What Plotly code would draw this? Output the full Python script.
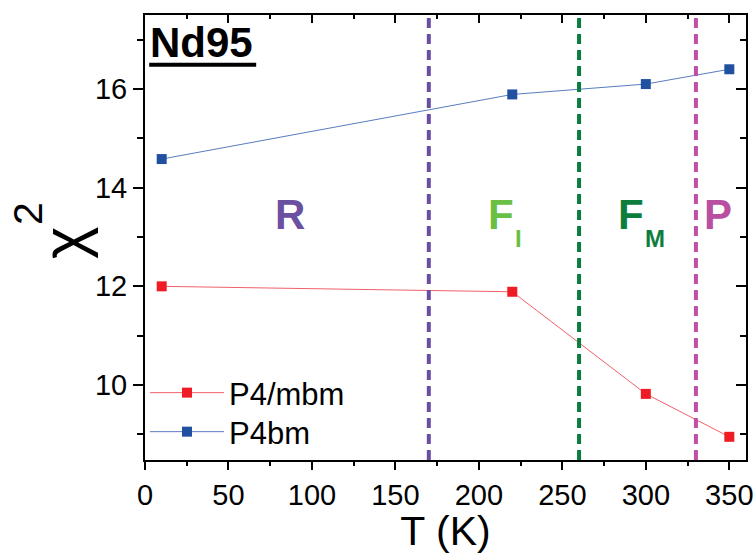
import plotly.graph_objects as go

T = [10, 220, 300, 350]
chi_p4mbm = [12.0, 11.89, 9.82, 8.95]
chi_p4bm = [14.58, 15.89, 16.1, 16.4]

boundaries = [170, 260, 330]
boundary_colors = ["#6a4ea3", "#0b7d3e", "#c14fa6"]

phase_labels = ["R", "F", "F", "P"]
phase_subs = ["", "I", "M", ""]
phase_x = [87, 213, 291, 343.5]
phase_y = [13.45, 13.45, 13.45, 13.45]
phase_colors = ["#6b4fa0", "#6abf45", "#0d7d3e", "#b94fa1"]

FONT = "Liberation Sans, Arial, sans-serif"

fig = go.Figure()

fig.add_trace(go.Scatter(
    x=T, y=chi_p4mbm, mode="lines+markers", name="P4/mbm", legend="legend",
    line=dict(color="#f0606a", width=1),
    marker=dict(symbol="square", size=10, color="#ee1c25"),
))
fig.add_trace(go.Scatter(
    x=T, y=chi_p4bm, mode="lines+markers", name="P4bm", legend="legend2",
    line=dict(color="#5a7cc0", width=1),
    marker=dict(symbol="square", size=10, color="#2150a0"),
))

for bx, bc in zip(boundaries, boundary_colors):
    fig.add_shape(type="line", x0=bx, x1=bx, y0=0, y1=1, xref="x", yref="paper",
                  line=dict(color=bc, width=4, dash="10px,6px"), layer="above")

for lab, sub, lx, ly, lc in zip(phase_labels, phase_subs, phase_x, phase_y, phase_colors):
    fig.add_annotation(x=lx, y=ly, xref="x", yref="y", text="<b>" + lab + "</b>",
                       showarrow=False, font=dict(family=FONT, size=42, color=lc))
    if sub:
        fig.add_annotation(x=lx, y=ly, xref="x", yref="y", text="<b>" + sub + "</b>",
                           xanchor="left", xshift=12, yshift=-24,
                           showarrow=False, font=dict(family=FONT, size=24, color=lc))

fig.add_annotation(x=0.005, y=0.995, xref="paper", yref="paper", xanchor="left", yanchor="top",
                   text="<b>Nd95</b>", showarrow=False,
                   font=dict(family=FONT, size=42, color="black"))
fig.add_shape(type="line", xref="paper", yref="paper", x0=0.007, x1=0.185, y0=0.888, y1=0.888,
              line=dict(color="black", width=4))

# y-axis title chi^2 (rotated), drawn as two pieces to control the superscript height
fig.add_annotation(x=-0.1364, y=0.4876, xref="paper", yref="paper", xanchor="center", yanchor="middle",
                   text="χ", textangle=-90, showarrow=False,
                   font=dict(family=FONT, size=62, color="black"))
fig.add_annotation(x=-0.1947, y=0.555, xref="paper", yref="paper", xanchor="center", yanchor="middle",
                   text="2", textangle=-90, showarrow=False,
                   font=dict(family=FONT, size=41, color="black"))

# invisible trace on secondary axes for mirrored inside ticks
fig.add_trace(go.Scatter(x=[None], y=[None], xaxis="x2", yaxis="y2", showlegend=False))

leg_common = dict(x=0.0, xanchor="left", yanchor="middle", bgcolor="rgba(0,0,0,0)",
                  font=dict(family=FONT, size=31), itemwidth=74)

fig.update_layout(
    width=756, height=554,
    margin=dict(l=145, r=10, t=15, b=94),
    paper_bgcolor="white", plot_bgcolor="white",
    font=dict(family=FONT, color="black"),
    showlegend=True,
    legend=dict(y=0.1506, **leg_common),
    legend2=dict(y=0.0629, **leg_common),
    xaxis=dict(range=[0, 360], tickvals=[0, 50, 100, 150, 200, 250, 300, 350],
               ticks="outside", ticklen=8, tickwidth=2, tickcolor="black",
               minor=dict(dtick=25, ticks="outside", ticklen=4, tickwidth=2, tickcolor="black"),
               showline=True, linewidth=2, linecolor="black", showgrid=False, zeroline=False,
               tickfont=dict(size=29, family=FONT), automargin=False,
               title=dict(text="T (K)", font=dict(size=41, family=FONT), standoff=8)),
    yaxis=dict(range=[8.48, 17.5], tickvals=[10, 12, 14, 16],
               ticks="outside", ticklen=10, tickwidth=2, tickcolor="black",
               minor=dict(dtick=1, ticks="outside", ticklen=6, tickwidth=2, tickcolor="black"),
               showline=True, linewidth=2, linecolor="black", showgrid=False, zeroline=False,
               tickfont=dict(size=29, family=FONT), automargin=False),
    xaxis2=dict(range=[0, 360], overlaying="x", side="top", matches="x",
                tickvals=[0, 50, 100, 150, 200, 250, 300, 350],
                ticks="inside", ticklen=8, tickwidth=2, tickcolor="black", showticklabels=False,
                minor=dict(dtick=25, ticks="inside", ticklen=4, tickwidth=2, tickcolor="black"),
                showline=True, linewidth=2, linecolor="black", showgrid=False, zeroline=False,
                automargin=False),
    yaxis2=dict(range=[8.48, 17.5], overlaying="y", side="right", matches="y",
                tickvals=[10, 12, 14, 16],
                ticks="inside", ticklen=10, tickwidth=2, tickcolor="black", showticklabels=False,
                minor=dict(dtick=1, ticks="inside", ticklen=6, tickwidth=2, tickcolor="black"),
                showline=True, linewidth=2, linecolor="black", showgrid=False, zeroline=False,
                automargin=False),
)

fig.write_html("out.html", config={"displayModeBar": False},
               post_script="document.body.style.margin='0';document.body.style.overflow='hidden';")
